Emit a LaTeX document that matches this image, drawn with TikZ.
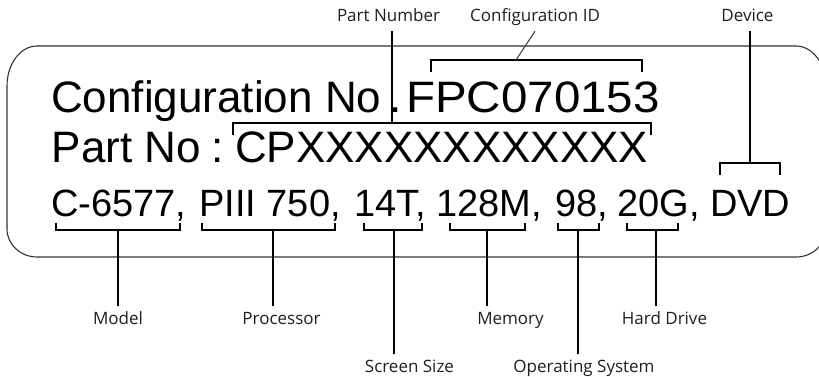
\documentclass[tikz,border=0pt]{standalone}
\usepackage{fontspec}
\setmainfont{Liberation Sans}
\newfontfamily\lblfont{Open Sans}
\usepackage{graphicx}
\tikzset{
  x=1pt, y=-1pt,
  big/.style={anchor=base west, inner sep=0pt, font=\fontsize{44pt}{50pt}\selectfont},
  mid/.style={anchor=base west, inner sep=0pt, font=\fontsize{38pt}{44pt}\selectfont},
  lbl/.style={anchor=base, inner xsep=0pt, inner ysep=5pt, text height=12.5pt, text depth=4pt,
              text=black!88, font=\lblfont\fontsize{17pt}{20pt}\selectfont},
  brk/.style={line width=2pt, line join=miter, black},
  lead/.style={line width=2pt, black},
  thinlead/.style={line width=1pt, black!80},
  frame/.style={line width=1.1pt, black!80}
}
\begin{document}
\begin{tikzpicture}
\useasboundingbox (0,0) rectangle (819,377);
\clip (0,0) rectangle (819,377);
\fill[white] (0,0) rectangle (819,377);

% outer frame
\draw[frame] (37,46) -- (796,46) .. controls (812.6,46) and (826,63.9) .. (826,86)
  -- (826,229) .. controls (826,244.5) and (812.6,257) .. (796,257)
  -- (37,257) .. controls (20.4,257) and (7,244.5) .. (7,229)
  -- (7,86) .. controls (7,63.9) and (20.4,46) .. (37,46) -- cycle;

% main text
\node[big] (cfgno) at (51,112.5) {Configuration No};
\node[big] (cfgdot) at (389,112.5) {.};
\node[big] (cfgid) at (406,112.5) {\scalebox{1.08}[1]{FPC070153}};
\node[big] (partno) at (51.6,162.5) {Part No};
\node[big] (colon) at (211,162.5) {:};
\node[big] (partid) at (234.8,162.5) {CPXXXXXXXXXXXX};
\node[mid] (tmodel) at (51.1,216) {C-6577,};
\node[mid] (tproc) at (199.1,216) {PIII 750,};
\node[mid] (tscreen) at (353.9,216) {14T,};
\node[mid] (tmem) at (435.9,216) {128M,};
\node[mid] (tos) at (555.4,216) {98,};
\node[mid] (thd) at (617,216) {20G,};
\node[mid] (tdvd) at (710,216) {DVD};

% labels
\node[lbl] (pnL) at (388.5,22) {Part Number};
\node[lbl] (cidL) at (535,22) {Configuration ID};
\node[lbl] (devL) at (747.5,22) {Device};
\node[lbl] (modelL) at (118,324) {Model};
\node[lbl] (procL) at (281.5,324) {Processor};
\node[lbl] (memL) at (510.5,324) {Memory};
\node[lbl] (hdL) at (664.5,324) {Hard Drive};
\node[lbl] (scrL) at (409.5,372) {Screen Size};
\node[lbl] (osL) at (584,372) {Operating System};

% bracket anchor points
\coordinate (pnB) at (392,123);
\coordinate (cidB) at (516,60);
\coordinate (devB) at (750,163);
\coordinate (modelB) at (118,229.5);
\coordinate (procB) at (273,229.5);
\coordinate (scrB) at (394,229.5);
\coordinate (memB) at (487,229.5);
\coordinate (osB) at (578,229.5);
\coordinate (hdB) at (656,229.5);

% top brackets (ticks downward)
\draw[brk] (431,72) -- (431,60) -- (642,60) -- (642,72);
\draw[brk] (233,135) -- (233,123) -- (651,123) -- (651,135);
\draw[brk] (720,175) -- (720,163) -- (780,163) -- (780,175);
% bottom brackets (ticks upward)
\draw[brk] (56,222.5) -- (56,229.5) -- (180,229.5) -- (180,222.5);
\draw[brk] (202,222.5) -- (202,229.5) -- (335,229.5) -- (335,222.5);
\draw[brk] (364,222.5) -- (364,229.5) -- (422,229.5) -- (422,222.5);
\draw[brk] (450,222.5) -- (450,229.5) -- (525,229.5) -- (525,222.5);
\draw[brk] (558,222.5) -- (558,229.5) -- (599,229.5) -- (599,222.5);
\draw[brk] (627,222.5) -- (627,229.5) -- (678,229.5) -- (678,222.5);

% leaders
\draw[lead] (pnL.south -| pnB) -- (pnB);
\draw[thinlead] (cidL.south) -- (cidB);
\draw[lead] (devL.south -| devB) -- (devB);
\draw[lead] (modelL.north -| modelB) -- (modelB);
\draw[lead] (procL.north -| procB) -- (procB);
\draw[lead] (scrL.north -| scrB) -- (scrB);
\draw[lead] (memL.north -| memB) -- (memB);
\draw[lead] (osL.north -| osB) -- (osB);
\draw[lead] (hdL.north -| hdB) -- (hdB);
\end{tikzpicture}
\end{document}
